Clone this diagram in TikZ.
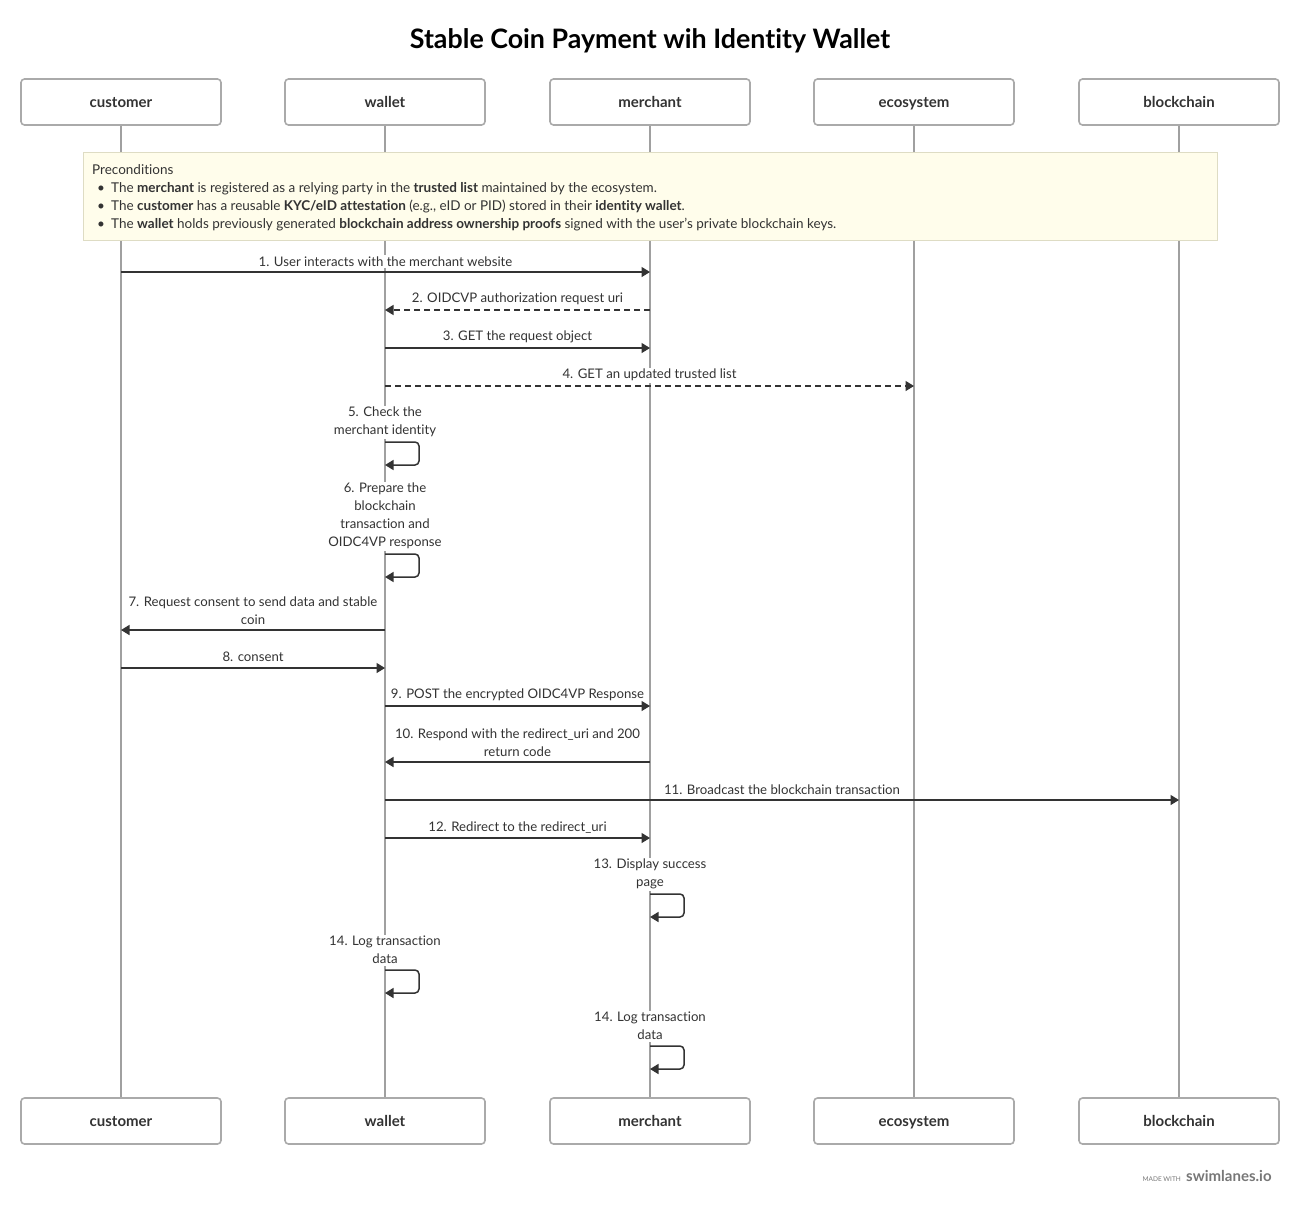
\documentclass[tikz,border=0pt]{standalone}
\usepackage{fontspec}
\setmainfont{Lato}[Ligatures=NoCommon]
\usetikzlibrary{arrows.meta}
\definecolor{txt}{HTML}{333333}
\definecolor{boxc}{HTML}{AAAAAA}
\definecolor{lifec}{HTML}{A0A0A0}
\definecolor{notefill}{HTML}{FFFDEB}
\definecolor{notedraw}{HTML}{DEDCC4}
\definecolor{foot}{HTML}{777777}
\begin{document}
\begin{tikzpicture}[x=1pt,y=-1pt,
  actor/.style={draw=boxc, line width=1.6, rounded corners=3.5, fill=white,
    minimum width=200, minimum height=46, inner sep=0, text height=12.5, text depth=1.5,
    font=\bfseries\fontsize{15}{18}\selectfont, text=txt},
  life/.style={draw=lifec, line width=1.8},
  msg/.style={draw=txt, line width=1.5, -{Triangle[length=8.5,width=10]}},
  dmsg/.style={msg, dash pattern=on 6 off 4},
  selfmsg/.style={msg, rounded corners=4},
  lbl/.style={fill=white, inner sep=1.5, yshift=-1.2, font=\fontsize{13.2}{18}\selectfont, text=txt, align=center},
  notetext/.style={inner sep=0, anchor=base west, font=\fontsize{13.5}{18}\selectfont, text=txt},
]
\path[use as bounding box] (0,0) rectangle (1300,1205);
\fill[white] (0,0) rectangle (1300,1205);

% title
\node[font=\bfseries\fontsize{26.8}{30}\selectfont, text=black] (title) at (650,40.5) {Stable Coin Payment wih Identity Wallet};

% actors
\node[actor] (ctop) at (121,102) {customer};
\node[actor] (wtop) at (385,102) {wallet};
\node[actor] (mtop) at (650,102) {merchant};
\node[actor] (etop) at (914,102) {ecosystem};
\node[actor] (btop) at (1179,102) {blockchain};
\node[actor] (cbot) at (121,1121) {customer};
\node[actor] (wbot) at (385,1121) {wallet};
\node[actor] (mbot) at (650,1121) {merchant};
\node[actor] (ebot) at (914,1121) {ecosystem};
\node[actor] (bbot) at (1179,1121) {blockchain};

% lifelines
\draw[life] (ctop.south) -- (cbot.north);
\draw[life] (wtop.south) -- (wbot.north);
\draw[life] (mtop.south) -- (mbot.north);
\draw[life] (etop.south) -- (ebot.north);
\draw[life] (btop.south) -- (bbot.north);

% preconditions note
\node[draw=notedraw, fill=notefill, line width=1, minimum width=1134, minimum height=88, inner sep=0] (note) at (650,196) {};
\node[notetext] (pre) at (92,174) {Preconditions};
\node[notetext] (b1) at (97,192) {\textbullet};
\node[notetext] (t1) at (111,192) {The \textbf{merchant} is registered as a relying party in the \textbf{trusted list} maintained by the ecosystem.};
\node[notetext] (b2) at (97,210) {\textbullet};
\node[notetext] (t2) at (111,210) {The \textbf{customer} has a reusable \textbf{KYC/eID attestation} (e.g., eID or PID) stored in their \textbf{identity wallet}.};
\node[notetext] (b3) at (97,228) {\textbullet};
\node[notetext] (t3) at (111,228) {The \textbf{wallet} holds previously generated \textbf{blockchain address ownership proofs} signed with the user's private blockchain keys.};

% 1
\node[lbl] (l1) at (385.5,260) {1. User interacts with the merchant website};
\draw[msg] (ctop |- 0,272) -- (mtop |- 0,272);
% 2
\node[lbl] (l2) at (517.5,298) {2. OIDCVP authorization request uri};
\draw[dmsg] (mtop |- 0,310) -- (wtop |- 0,310);
% 3
\node[lbl] (l3) at (517.5,336) {3. GET the request object};
\draw[msg] (wtop |- 0,348) -- (mtop |- 0,348);
% 4
\node[lbl] (l4) at (649.5,374) {4. GET an updated trusted list};
\draw[dmsg] (wtop |- 0,386) -- (etop |- 0,386);
% 5
\node[lbl] (l5) at (385,421) {5. Check the\\merchant identity};
\draw[selfmsg] (wtop |- 0,442) -- ++(34,0) -- ++(0,23) -- ++(-34,0);
% 6
\node[lbl] (l6) at (385,515) {6. Prepare the\\blockchain\\transaction and\\OIDC4VP response};
\draw[selfmsg] (wtop |- 0,554) -- ++(34,0) -- ++(0,23) -- ++(-34,0);
% 7
\node[lbl] (l7) at (253,609) {7. Request consent to send data and stable\\coin};
\draw[msg] (wtop |- 0,630) -- (ctop |- 0,630);
% 8
\node[lbl] (l8) at (253,656) {8. consent};
\draw[msg] (ctop |- 0,668) -- (wtop |- 0,668);
% 9
\node[lbl] (l9) at (517.5,694) {9. POST the encrypted OIDC4VP Response};
\draw[msg] (wtop |- 0,706) -- (mtop |- 0,706);
% 10
\node[lbl] (l10) at (517.5,741) {10. Respond with the redirect\_uri and 200\\return code};
\draw[msg] (mtop |- 0,762) -- (wtop |- 0,762);
% 11
\node[lbl] (l11) at (782,788) {11. Broadcast the blockchain transaction};
\draw[msg] (wtop |- 0,800) -- (btop |- 0,800);
% 12
\node[lbl] (l12) at (517.5,826) {12. Redirect to the redirect\_uri};
\draw[msg] (wtop |- 0,838) -- (mtop |- 0,838);
% 13
\node[lbl] (l13) at (650,873) {13. Display success\\page};
\draw[selfmsg] (mtop |- 0,894) -- ++(34,0) -- ++(0,23) -- ++(-34,0);
% 14 wallet
\node[lbl] (l14a) at (385,949) {14. Log transaction\\data};
\draw[selfmsg] (wtop |- 0,970) -- ++(34,0) -- ++(0,23) -- ++(-34,0);
% 14 merchant
\node[lbl] (l14b) at (650,1025) {14. Log transaction\\data};
\draw[selfmsg] (mtop |- 0,1046) -- ++(34,0) -- ++(0,23) -- ++(-34,0);

% footer
\node[inner sep=0, anchor=base east, font=\fontsize{6.5}{8}\selectfont, text=foot] (made) at (1181,1181) {MADE WITH};
\node[inner sep=0, anchor=base west, font=\bfseries\fontsize{15}{18}\selectfont, text=foot] (swim) at (1186,1181) {swimlanes.io};
\end{tikzpicture}
\end{document}
